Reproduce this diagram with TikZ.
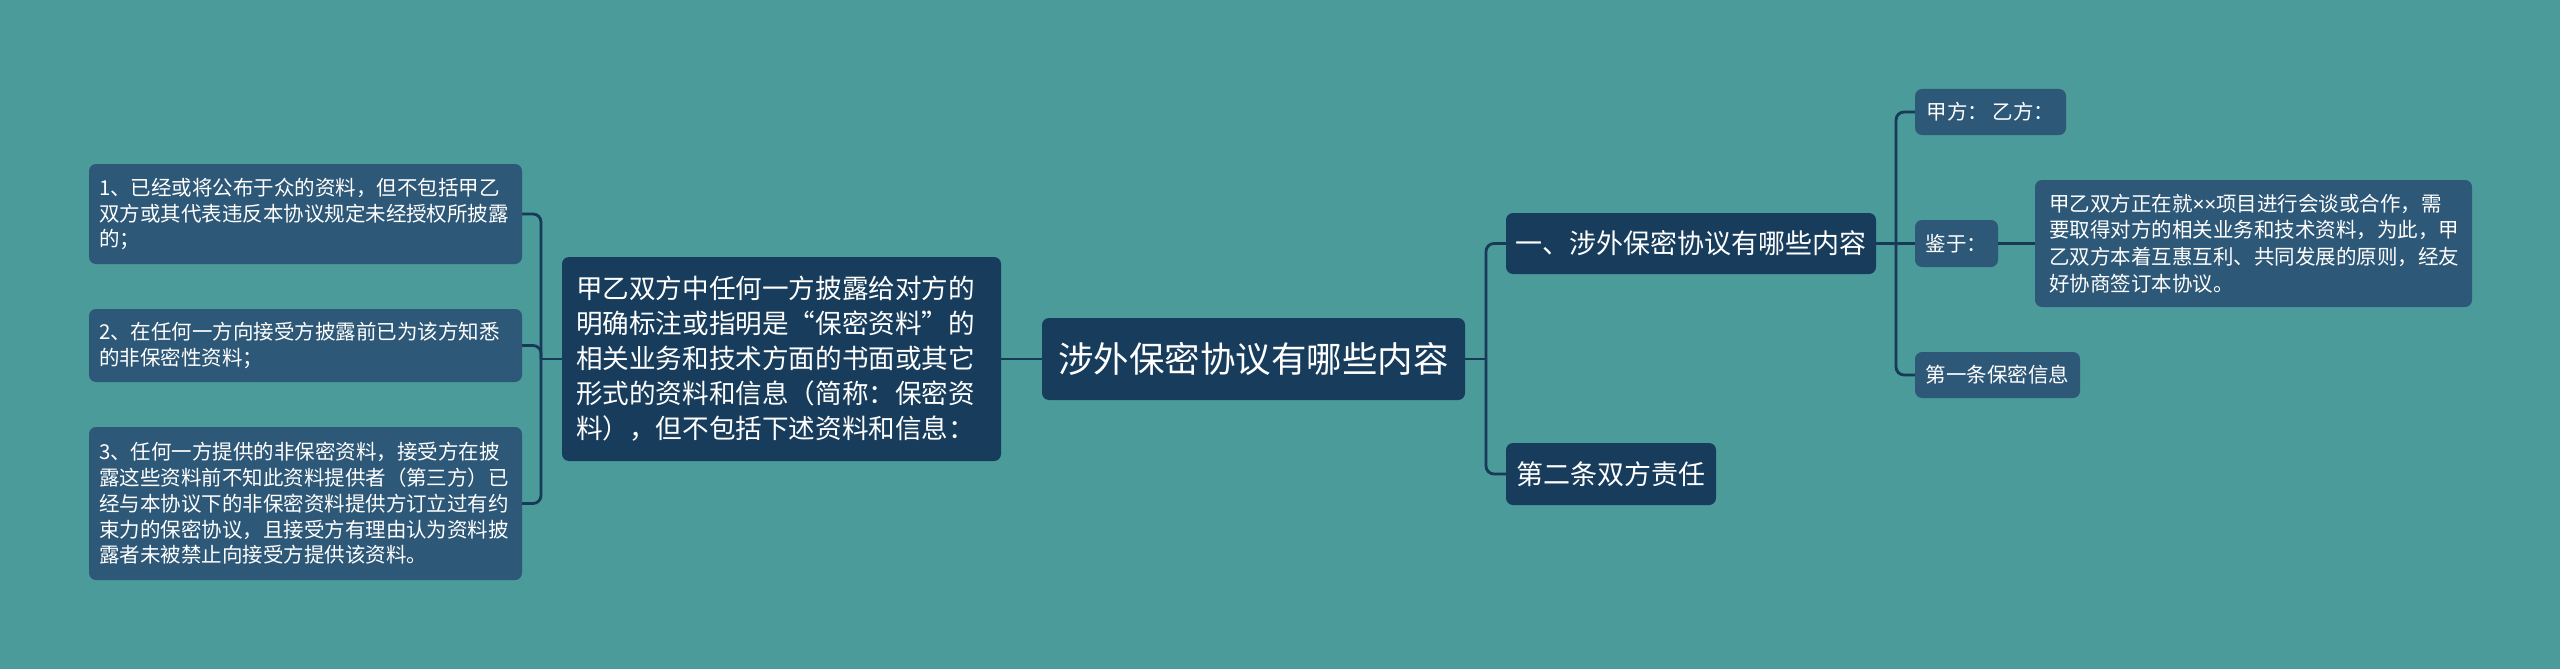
\documentclass[tikz,border=0pt]{standalone}
\usepackage{fontspec}
\setmainfont{Noto Sans CJK SC}
\newfontfamily\latinfont{Liberation Sans}
\definecolor{bg}{HTML}{4C9B9B}
\definecolor{darkbox}{HTML}{183C5B}
\definecolor{leafbox}{HTML}{2E5877}
\definecolor{linec}{HTML}{173A56}
\tikzset{
  box/.style={rounded corners=7pt, inner sep=0pt, text=white, align=left},
  mainbox/.style={box, fill=darkbox},
  leafbox/.style={box, fill=leafbox},
  bigfont/.style={font=\fontsize{35.5}{40}\selectfont},
  midfont/.style={font=\fontsize{27}{35}\selectfont},
  lfont/.style={font=\fontsize{26.6}{35}\selectfont},
  smallfont/.style={font=\fontsize{20.5}{25.8}\selectfont},
  rfont/.style={font=\fontsize{20.5}{26.7}\selectfont},
  conn/.style={draw=linec, line width=2.8pt},
  elbow/.style={conn, rounded corners=8pt}
}
\begin{document}
\begin{tikzpicture}[x=1pt, y=-1pt]
\fill[bg] (0,0) rectangle (2560,669);
\useasboundingbox (0,0) rectangle (2560,669);

% center
\node[mainbox, bigfont, minimum width=423pt, minimum height=82pt] (C) at (1253.5,359) {涉外保密协议有哪些内容};

% left main
\node[mainbox, lfont, minimum width=439pt, minimum height=204pt, text width=411pt] (L) at (781.5,359)
 {甲乙双方中任何一方披露给对方的\\明确标注或指明是“保密资料”的\\相关业务和技术方面的书面或其它\\形式的资料和信息（简称：保密资\\料），但不包括下述资料和信息：};

\node[leafbox, smallfont, minimum width=433pt, minimum height=100pt, text width=413pt] (L1) at (305.5,214)
 {1、已经或将公布于众的资料，但不包括甲乙\\双方或其代表违反本协议规定未经授权所披露\\的；};
\node[leafbox, smallfont, minimum width=433pt, minimum height=73pt, text width=413pt] (L2) at (305.5,345.5)
 {2、在任何一方向接受方披露前已为该方知悉\\的非保密性资料；};
\node[leafbox, smallfont, minimum width=433pt, minimum height=153pt, text width=413pt] (L3) at (305.5,503.5)
 {3、任何一方提供的非保密资料，接受方在披\\露这些资料前不知此资料提供者（第三方）已\\经与本协议下的非保密资料提供方订立过有约\\束力的保密协议，且接受方有理由认为资料披\\露者未被禁止向接受方提供该资料。};

% right side
\node[mainbox, midfont, minimum width=370pt, minimum height=61pt] (A) at (1691,243.5) {一、涉外保密协议有哪些内容};
\node[mainbox, midfont, minimum width=210pt, minimum height=62pt] (B) at (1611,474) {第二条双方责任};

\node[leafbox, smallfont, minimum width=151pt, minimum height=46pt] (R1) at (1990.5,112) {甲方： 乙方：};
\node[leafbox, smallfont, minimum width=83pt, minimum height=47pt] (R2) at (1956.5,243.5) {鉴于：};
\node[leafbox, rfont, minimum width=437pt, minimum height=127pt, text width=409pt] (R2a) at (2253.5,243.5)
 {甲乙双方正在就{\latinfont ××}项目进行会谈或合作，需\\要取得对方的相关业务和技术资料，为此，甲\\乙双方本着互惠互利、共同发展的原则，经友\\好协商签订本协议。};
\node[leafbox, smallfont, minimum width=165pt, minimum height=46pt] (R3) at (1997.5,375) {第一条保密信息};

% junction coordinates
\coordinate (jl) at (541,359);
\coordinate (jr) at (1486,359);
\coordinate (ja) at (1896,243.5);

% connectors
\draw[conn] (C.west) -- (L.east);
\draw[conn] (L.west) -- (jl);
\draw[elbow] (jl) |- (L1.east);
\draw[elbow] (jl) |- (L2.east);
\draw[elbow] (jl) |- (L3.east);

\draw[conn] (C.east) -- (jr);
\draw[elbow] (jr) |- (A.west);
\draw[elbow] (jr) |- (B.west);

\draw[conn] (A.east) -- (ja);
\draw[elbow] (ja) |- (R1.west);
\draw[conn] (ja) -- (R2.west);
\draw[elbow] (ja) |- (R3.west);
\draw[conn] (R2.east) -- (R2a.west);
\end{tikzpicture}
\end{document}
